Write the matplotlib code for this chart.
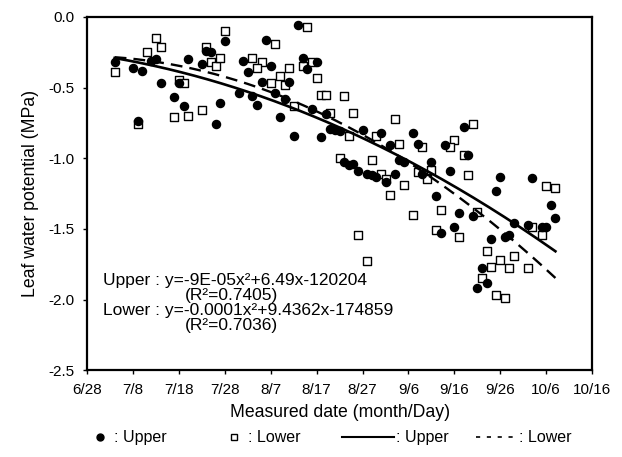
import numpy as np
import pandas as pd
import matplotlib
matplotlib.use("Agg")
import matplotlib.pyplot as plt
import matplotlib.dates as mdates
from matplotlib.lines import Line2D

plt.rcParams['font.family'] = ['Liberation Sans', 'DejaVu Sans']

YEAR = 1998

# upper leaves (filled circles)
upper_dates = ["7/4", "7/8", "7/10", "7/12", "7/13", "7/14", "7/9", "7/20", "7/18", "7/17",
               "7/19", "7/23", "7/24", "7/25", "7/28", "7/26", "7/27", "7/31", "8/1", "8/2",
               "8/3", "8/4", "8/5", "8/6", "8/7", "8/13", "8/8", "8/10", "8/11", "8/9",
               "8/12", "8/14", "8/15", "8/17", "8/18", "8/16", "8/19", "8/20", "8/21", "8/22",
               "8/23", "8/24", "8/25", "8/26", "8/27", "8/28", "8/29", "8/30", "8/31", "9/1",
               "9/2", "9/3", "9/4", "9/5", "9/7", "9/8", "9/11", "9/9", "9/12", "9/18",
               "9/14", "9/19", "9/15", "9/26", "10/3", "9/25", "9/17", "9/20", "9/13", "9/16",
               "9/24", "9/27", "9/28", "9/29", "10/2", "10/5", "10/6", "10/7", "10/8", "9/22",
               "9/23", "9/21"]
upper_vals = [-0.32, -0.36, -0.38, -0.31, -0.30, -0.47, -0.74, -0.30, -0.47, -0.57,
              -0.63, -0.33, -0.24, -0.25, -0.17, -0.76, -0.61, -0.54, -0.31, -0.39,
              -0.56, -0.62, -0.46, -0.16, -0.35, -0.06, -0.54, -0.58, -0.46, -0.71,
              -0.84, -0.29, -0.37, -0.32, -0.85, -0.65, -0.69, -0.79, -0.80, -0.81,
              -1.03, -1.05, -1.04, -1.09, -0.80, -1.11, -1.12, -1.13, -0.82, -1.17,
              -0.91, -1.11, -1.01, -1.03, -0.82, -0.90, -1.03, -1.11, -1.27, -0.78,
              -0.91, -0.98, -1.09, -1.13, -1.14, -1.23, -1.39, -1.41, -1.53, -1.49,
              -1.57, -1.56, -1.54, -1.46, -1.47, -1.49, -1.49, -1.33, -1.42, -1.78,
              -1.88, -1.92]

# lower leaves (open squares)
lower_dates = ["7/4", "7/13", "7/14", "7/11", "7/9", "7/18", "7/19", "7/17", "7/20", "7/23",
               "7/24", "7/25", "7/26", "7/27", "7/28", "8/3", "8/5", "8/4", "8/7", "8/15",
               "8/8", "8/11", "8/9", "8/10", "8/14", "8/16", "8/17", "8/18", "8/19", "8/23",
               "8/12", "8/20", "8/25", "9/3", "8/24", "8/30", "9/4", "9/9", "8/22", "8/29",
               "8/31", "9/1", "9/2", "9/5", "9/8", "9/10", "9/11", "9/20", "9/16", "9/15",
               "9/18", "9/19", "10/6", "10/8", "9/7", "9/13", "9/21", "9/12", "9/17", "10/3",
               "10/5", "9/23", "9/26", "9/29", "9/24", "9/28", "10/2", "9/22", "9/25", "9/27",
               "8/26", "8/28"]
lower_vals = [-0.39, -0.15, -0.21, -0.25, -0.76, -0.45, -0.47, -0.71, -0.70, -0.66,
              -0.21, -0.32, -0.35, -0.29, -0.10, -0.29, -0.32, -0.36, -0.47, -0.07,
              -0.19, -0.36, -0.42, -0.48, -0.35, -0.32, -0.43, -0.55, -0.55, -0.56,
              -0.63, -0.68, -0.68, -0.72, -0.84, -0.84, -0.90, -0.92, -1.00, -1.01,
              -1.11, -1.15, -1.26, -1.19, -1.10, -1.15, -1.08, -0.76, -0.87, -0.92,
              -0.98, -1.12, -1.20, -1.21, -1.40, -1.37, -1.38, -1.51, -1.56, -1.49,
              -1.54, -1.66, -1.72, -1.69, -1.77, -1.78, -1.78, -1.85, -1.97, -1.99,
              -1.54, -1.73]

x_ticks = ["6/28", "7/8", "7/18", "7/28", "8/7", "8/17", "8/27", "9/6", "9/16", "9/26", "10/6", "10/16"]


def to_date(lst):
    return pd.to_datetime([f"{YEAR}/{s}" for s in lst], format="%Y/%m/%d")


up_d = to_date(upper_dates)
lo_d = to_date(lower_dates)
tick_d = to_date(x_ticks)

fig = plt.figure(figsize=(6.22, 4.57), dpi=100)
ax = fig.add_axes([0.140, 0.190, 0.812, 0.773])


def trend(d, v):
    x = mdates.date2num(d)
    c = np.polyfit(x, v, 2)
    xs = np.linspace(x.min(), x.max(), 200)
    return mdates.num2date(xs), np.polyval(c, xs)


tu_x, tu_y = trend(up_d, upper_vals)
tl_x, tl_y = trend(lo_d, lower_vals)

ax.scatter(lo_d, lower_vals, marker='s', s=26, facecolor='white', edgecolor='black', linewidth=1.0, zorder=3)
ax.scatter(up_d, upper_vals, marker='o', s=34, color='black', zorder=4)
ax.plot(tu_x, tu_y, color='black', lw=1.9, zorder=5)
ax.plot(tl_x, tl_y, color='black', lw=1.7, ls=(0, (5, 3)), zorder=5)

ax.set_xlim(tick_d[0], tick_d[-1])
ax.set_ylim(-2.5, 0.0)
ax.set_xticks(tick_d)
ax.set_xticklabels(x_ticks)
ax.set_yticks(np.arange(-2.5, 0.01, 0.5))
ax.yaxis.set_major_formatter(matplotlib.ticker.FormatStrFormatter('%.1f'))
ax.tick_params(direction='out', length=3, width=1, labelsize=11, pad=6)
for s in ax.spines.values():
    s.set_linewidth(1.6)

ax.set_ylabel("Leaf water potential (MPa)", fontsize=12.7, labelpad=7)
fig.text(0.547, 0.097, "Measured date (month/Day)", fontsize=12.7, ha='center', va='center')

eq_fs = 12.5
ax.text(0.032, 0.255, "Upper : y=-9E-05x²+6.49x-120204", transform=ax.transAxes, fontsize=eq_fs, va='center')
ax.text(0.194, 0.212, "(R²=0.7405)", transform=ax.transAxes, fontsize=eq_fs, va='center')
ax.text(0.032, 0.170, "Lower : y=-0.0001x²+9.4362x-174859", transform=ax.transAxes, fontsize=eq_fs, va='center')
ax.text(0.194, 0.127, "(R²=0.7036)", transform=ax.transAxes, fontsize=eq_fs, va='center')

# legend row under the chart
ly = 0.043
lfs = 11.5
fig.add_artist(Line2D([100 / 622], [ly], marker='o', color='black', markersize=5, transform=fig.transFigure))
fig.text(114 / 622, ly, ": Upper", fontsize=lfs, va='center')
fig.add_artist(Line2D([234 / 622], [ly], marker='s', markerfacecolor='white', markeredgecolor='black',
                      markersize=5, lw=0, transform=fig.transFigure))
fig.text(248 / 622, ly, ": Lower", fontsize=lfs, va='center')
fig.add_artist(Line2D([342 / 622, 394 / 622], [ly, ly], color='black', lw=1.5, transform=fig.transFigure))
fig.text(396 / 622, ly, ": Upper", fontsize=lfs, va='center')
fig.add_artist(Line2D([476 / 622, 516 / 622], [ly, ly], color='black', lw=1.2, ls=(0, (2.5, 4)),
                      transform=fig.transFigure))
fig.text(519 / 622, ly, ": Lower", fontsize=lfs, va='center')

fig.savefig("out.png", dpi=100)
